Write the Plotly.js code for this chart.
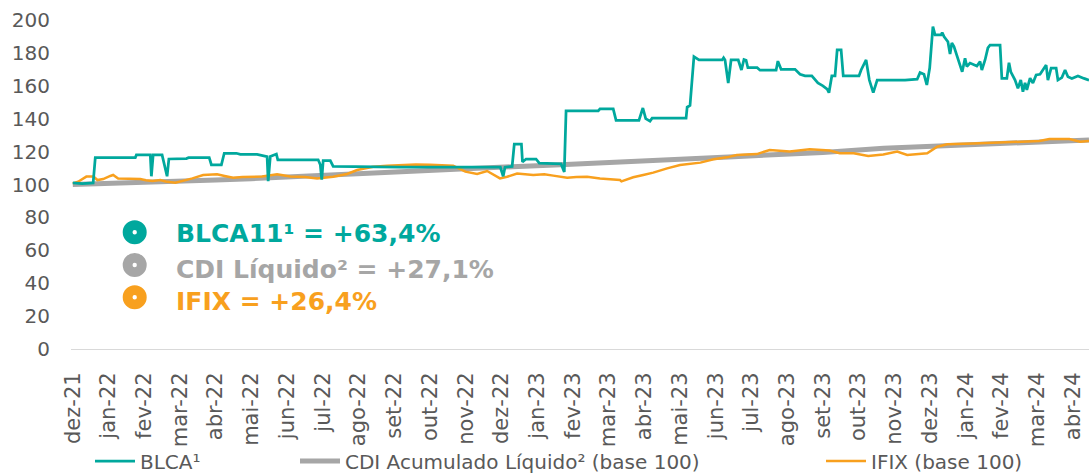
<!DOCTYPE html>
<html><head><meta charset="utf-8">
<script src="https://cdn.plot.ly/plotly-3.0.1.min.js"></script>
<style>html,body{margin:0;padding:0;background:#fff}#chart{width:1089px;height:474px}</style>
</head><body><div id="chart"></div><script>
// Month tick labels (one per month, index = months since dez-21)
const monthLabels = ['dez-21','jan-22','fev-22','mar-22','abr-22','mai-22','jun-22','jul-22','ago-22','set-22','out-22','nov-22','dez-22',
  'jan-23','fev-23','mar-23','abr-23','mai-23','jun-23','jul-23','ago-23','set-23','out-23','nov-23','dez-23',
  'jan-24','fev-24','mar-24','abr-24'];
const yTicks = [0,20,40,60,80,100,120,140,160,180,200];

// BLCA¹ (time in months since dez-21, value base 100)
const blcaT = [0,0.27,0.57,0.63,1.75,1.78,2.17,2.2,2.25,2.5,
  2.64,2.69,3.18,3.24,3.82,3.88,4.16,4.24,4.58,4.69,
  5.16,5.38,5.44,5.47,5.53,5.7,5.74,6.87,6.93,6.97,
  7.01,7.21,7.29,9.17,11.46,11.97,12.05,12.1,12.3,12.36,
  12.56,12.59,12.69,12.97,13.06,13.67,13.76,13.81,14.71,14.76,
  15.13,15.21,15.85,15.96,16.04,16.16,16.22,17.17,17.2,17.28,
  17.39,17.53,18.18,18.22,18.26,18.35,18.43,18.63,18.72,18.79,
  18.85,18.9,19.16,19.24,19.69,19.74,19.83,20.22,20.36,20.5,
  20.69,20.86,21.0,21.12,21.17,21.25,21.34,21.4,21.51,21.57,
  22.01,22.07,22.21,22.3,22.41,22.52,23.3,23.64,23.72,23.83,
  23.91,23.99,24.08,24.14,24.31,24.34,24.39,24.5,24.56,24.61,
  24.67,24.78,24.9,24.98,25.03,25.12,25.31,25.4,25.45,25.54,
  25.62,25.68,25.96,26.01,26.15,26.21,26.26,26.38,26.46,26.54,
  26.6,26.66,26.71,26.8,26.88,26.97,27.08,27.25,27.3,27.39,
  27.53,27.58,27.69,27.78,27.86,27.97,28.14,28.31,28.45];
const blcaV = [101,100.5,101,116.3,116.3,118,118,105,118,118,
  105,115.5,115.8,116.3,116.3,112,112,119,119,118.3,
  118.3,117.5,117,102,117,118.5,115,115,112,103,
  114.5,114.5,111,110.5,110.5,110.5,105,110.5,111,124.5,
  124.5,113.7,115.5,115.5,113,112.5,107.6,144.7,144.7,146,
  146,139,139,146.5,140,138.5,140.3,140.3,147,148,
  177.7,175.7,175.7,177,175.7,161.7,175.7,175.7,169.6,176,
  175.5,171,171,169.5,169.5,175,170,170,167,166,
  166,161.7,160,158,155.8,166,166,181.8,181.8,166,
  166,169.6,175.7,163.5,155.8,163.5,163.5,164,168,167,
  160.5,170.8,196,191,191,192.3,190,186.8,179.3,186,
  183.8,176.6,168.5,176.7,171.7,173.8,172,174.7,169.6,175.7,
  183,184.8,184.8,164.5,164.5,174,168.5,163.5,158.4,163.5,
  156.4,161.8,157.5,164.6,161.7,166.6,167,172.6,163.5,170.8,
  170.8,163.5,165,169.6,165.5,164.5,166,164.5,163.4];

// CDI Acumulado Líquido² (base 100)
const cdiT = [0,1.5,3,4,5,6,7.3,8.2,9.17,10.5,11.5,12.3,13.5,15,16,17,18.5,19.4,20.4,21,22.7,23.5,24.56,25.5,26.43,27.5,28.45];
const cdiV = [100,100.8,101.8,102.7,103.5,104.5,105.8,107,108.3,109.6,110.3,110.8,111.8,113,114.2,115.3,116.9,117.9,118.5,119.5,122,122.8,123.6,124.6,125.5,126.3,127.1];

// IFIX (base 100)
const ifixT = [0,0.15,0.38,0.58,0.69,0.85,1.05,1.13,1.27,1.55,
  1.89,2.05,2.23,2.45,2.6,2.87,3.1,3.35,3.65,4.04,
  4.25,4.49,4.75,5.05,5.3,5.72,6.09,6.5,6.84,7.29,
  7.68,7.96,8.41,8.8,9.17,9.6,10.0,10.3,10.65,10.99,
  11.32,11.6,11.96,12.16,12.44,12.89,13.2,13.45,13.84,14.1,
  14.4,14.76,15.05,15.32,15.36,15.69,15.97,16.25,16.64,17.0,
  17.57,17.94,18.31,18.59,19.15,19.51,20.07,20.63,21.19,21.47,
  21.86,22.27,22.69,23.08,23.36,23.92,24.2,24.48,25.2,26.15,
  27.06,27.34,27.9,28.2,28.45];
const ifixV = [100.7,101.7,104.8,104.8,102.7,103.3,105.2,105.8,103.7,103.5,
  103.3,102.6,102.1,102.7,101.8,101.1,102.2,103.7,105.8,106.2,
  105.2,104.1,104.5,104.8,104.8,106.2,104.8,104.5,103.7,104.7,
  106.4,108.8,110.8,111.4,111.9,112.2,112,111.8,111.4,107.8,
  106.4,108.2,103.7,104.7,106.7,105.8,106.2,105.4,104.1,104.5,
  104.7,103.7,103.4,102.7,101.9,104.4,105.8,107.2,109.8,111.9,
  113.3,115.3,116.5,117.9,118.5,121,120,121.4,120.6,119,
  119,117.3,118.3,120,117.9,119,123,124.4,125,125.6,
  126.4,127.7,127.7,126,126.4];

const seriesNames = ['BLCA¹','CDI Acumulado Líquido² (base 100)','IFIX (base 100)'];
const callouts = ['BLCA11¹ = +63,4%','CDI Líquido² = +27,1%','IFIX = +26,4%'];
const colors = ['#00A89D','#A6A6A6','#F8A01E'];

const FONT = 'DejaVu Sans, Verdana, sans-serif';

const traces = [
  {x: cdiT, y: cdiV, name: seriesNames[1], mode:'lines', line:{color:colors[1], width:5}, legend:'legend2', hoverinfo:'skip'},
  {x: ifixT, y: ifixV, name: seriesNames[2], mode:'lines', line:{color:colors[2], width:2.5}, legend:'legend3', hoverinfo:'skip'},
  {x: blcaT, y: blcaV, name: seriesNames[0], mode:'lines', line:{color:colors[0], width:2.75}, legend:'legend', hoverinfo:'skip'}
];

const FW = 1089, FH = 474;
const L = 71, W = FW - 71, T = 20, H = 329;
const px = (x) => (x - L) / W;
const py = (y) => (T + H - y) / H;

// legends positioned in container coordinates so they do not push the plot margins
const legendBase = {orientation:'h', yref:'container', xref:'container', yanchor:'middle', y: 1 - 461 / FH, xanchor:'left',
  font:{family:FONT, size:20, color:'#595959'}, bgcolor:'rgba(0,0,0,0)', itemwidth:40};

const markerY = [232.3, 265, 297.3];
const textY = [234, 269, 301];
const shapes = [];
const annotations = [];
for (let i = 0; i < 3; i++) {
  shapes.push({type:'circle', xref:'paper', yref:'paper', xsizemode:'pixel', ysizemode:'pixel',
    xanchor: px(134.7), yanchor: py(markerY[i]), x0:-12, x1:12, y0:-12, y1:12,
    fillcolor: colors[i], line:{width:0}});
  shapes.push({type:'circle', xref:'paper', yref:'paper', xsizemode:'pixel', ysizemode:'pixel',
    xanchor: px(134.7), yanchor: py(markerY[i]), x0:-2.2, x1:2.2, y0:-2.2, y1:2.2,
    fillcolor: '#ffffff', line:{width:0}});
  annotations.push({xref:'paper', yref:'paper', x: px(174), y: py(textY[i]), xanchor:'left', yanchor:'middle',
    showarrow:false, text:'<b>' + callouts[i] + '</b>', font:{family:FONT, size:25, color:colors[i]}});
}

const layout = {
  width:FW, height:FH,
  margin:{l:L, r:0, t:T, b:FH - T - H, pad:0},
  paper_bgcolor:'#fff', plot_bgcolor:'#fff',
  font:{family:FONT, size:20, color:'#595959'},
  xaxis:{range:[-0.05, 28.45], tickvals: monthLabels.map((_, i) => i), ticktext: monthLabels,
    tickangle:-90, showgrid:false, zeroline:false, showline:true, linecolor:'#D9D9D9', linewidth:1,
    ticks:'', ticklabelstandoff:14, tickfont:{family:FONT, size:21, color:'#595959'}, fixedrange:true, automargin:false},
  yaxis:{range:[0,200], tickvals:yTicks, showgrid:false, zeroline:false, showline:false, ticks:'',
    ticklabelstandoff:20, tickfont:{family:FONT, size:20, color:'#595959'}, fixedrange:true, automargin:false},
  showlegend:true,
  legend: Object.assign({}, legendBase, {x: 90 / FW}),
  legend2: Object.assign({}, legendBase, {x: 295 / FW}),
  legend3: Object.assign({}, legendBase, {x: 821 / FW}),
  shapes: shapes,
  annotations: annotations
};

Plotly.newPlot('chart', traces, layout, {displayModeBar:false, staticPlot:true});
</script></body></html>
